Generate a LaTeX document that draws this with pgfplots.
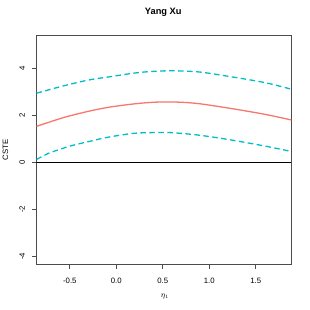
\documentclass[border=0pt]{standalone}
\usepackage{pgfplots}
\pgfplotsset{compat=1.18}
\usepackage{fontspec}
\setmainfont{Liberation Sans}
\definecolor{rline}{HTML}{F8766D}
\definecolor{cline}{HTML}{00BFC4}
\begin{document}
\begin{tikzpicture}
\useasboundingbox (-36.5bp,-45.7bp) rectangle (273.5bp,264.3bp);
\begin{axis}[
  at={(0,0)}, anchor=south west, scale only axis,
  width=255bp, height=229.3bp,
  xmin=-0.858, xmax=1.884, ymin=-4.34, ymax=5.417,
  xtick={-0.5,0,0.5,1,1.5}, ytick={-4,-2,0,2,4},
  xtick pos=bottom, ytick pos=left,
  axis line style={black!70, line width=0.6bp},
  tick style={black!70, line width=0.6bp},
  tick align=outside, major tick length=4.6bp,
  /pgf/number format/assume math mode=true,
  ticklabel style={font=\fontsize{7.8}{9}\selectfont},
  xticklabel style={yshift=-5.5bp, /pgf/number format/.cd, fixed, fixed zerofill, precision=1},
  yticklabel style={xshift=-3.5bp, rotate=90, anchor=south},
  title={Yang Xu},
  title style={font=\bfseries\fontsize{9.3}{11}\selectfont, at={(axis description cs:0.497,1.0711)}, anchor=center},
  xlabel={$\eta_1$},
  xlabel style={font=\fontsize{7.8}{9}\selectfont, at={(axis description cs:0.504,-0.1413)}, anchor=center},
  ylabel={CSTE},
  ylabel style={font=\fontsize{7.8}{9}\selectfont, at={(axis description cs:-0.1216,0.5)}, anchor=center},
]
\addplot[black, line width=0.65bp] coordinates {(-0.858,0) (1.884,0)};
\addplot[rline, line width=1.3bp, smooth] coordinates {
(-0.858,1.53) (-0.57,1.90) (-0.3,2.17) (-0.07,2.35) (0.18,2.48) (0.36,2.545) (0.52,2.57) (0.7,2.555) (0.9,2.49) (1.25,2.28) (1.6,2.04) (1.884,1.80)};
\addplot[cline, line width=1.3bp, smooth, dash pattern=on 5.5bp off 3.5bp] coordinates {
(-0.858,2.94) (-0.57,3.25) (-0.3,3.50) (-0.07,3.64) (0.18,3.79) (0.36,3.86) (0.6,3.895) (0.9,3.84) (1.25,3.63) (1.6,3.39) (1.884,3.11)};
\addplot[cline, line width=1.3bp, smooth, dash pattern=on 5.5bp off 3.5bp] coordinates {
(-0.858,0.12) (-0.73,0.38) (-0.6,0.56) (-0.48,0.71) (-0.3,0.88) (-0.1,1.06) (0.18,1.23) (0.4,1.265) (0.6,1.26) (0.9,1.15) (1.25,0.94) (1.6,0.69) (1.884,0.46)};
\end{axis}
\end{tikzpicture}
\end{document}
